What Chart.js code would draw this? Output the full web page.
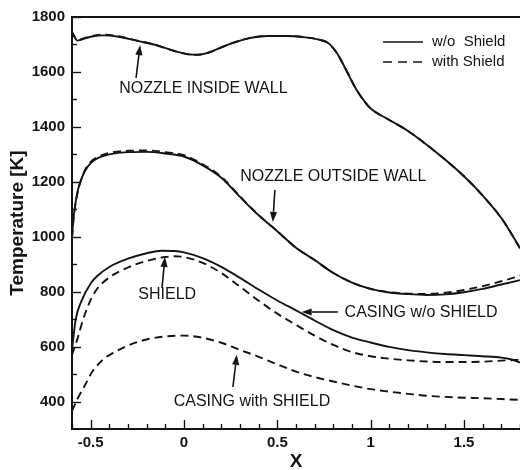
<!DOCTYPE html>
<html><head><meta charset="utf-8">
<script src="https://cdn.jsdelivr.net/npm/chart.js@4.4.0/dist/chart.umd.min.js"></script>
<style>html,body{margin:0;padding:0;background:#fff;}#wrap{width:520px;height:470px;}</style>
</head><body><div id="wrap"><canvas id="c" width="520" height="470"></canvas></div>
<script>
// ---- tick labels ----
const xTickLabels = [-0.5, 0, 0.5, 1, 1.5];
const yTickLabels = [400, 600, 800, 1000, 1200, 1400, 1600, 1800];

// ---- Nozzle inside wall ----
const nozzleInX      = [-0.6,-0.57,-0.55,-0.5,-0.43,-0.35,-0.25,-0.15,-0.05,0.05,0.1,0.15,0.25,0.35,0.45,0.55,0.65,0.72,0.77,0.82,0.87,0.92,0.97,1.0,1.1,1.2,1.3,1.4,1.5,1.6,1.7,1.75,1.8];
const nozzleInSolid  = [1745,1714,1718,1728,1733,1728,1713,1698,1676,1663,1665,1675,1703,1723,1731,1731,1726,1718,1706,1668,1605,1540,1490,1467,1425,1385,1335,1280,1220,1150,1068,1015,958];
const nozzleInDashed = [1745,1714,1719,1730,1736,1730,1714,1698,1676,1662,1664,1675,1703,1723,1731,1731,1726,1718,1706,1668,1605,1540,1490,1467,1425,1385,1335,1280,1220,1150,1068,1015,958];

// ---- Nozzle outside wall ----
const nozzleOutX      = [-0.6,-0.59,-0.57,-0.555,-0.53,-0.5,-0.46,-0.4,-0.3,-0.2,-0.1,0,0.1,0.2,0.3,0.4,0.5,0.6,0.7,0.8,0.9,1.0,1.1,1.2,1.3,1.4,1.5,1.6,1.7,1.8];
const nozzleOutSolid  = [1000,1080,1165,1200,1240,1268,1287,1300,1308,1309,1303,1292,1260,1215,1145,1078,1020,960,915,868,833,810,797,791,788,790,798,810,826,842];
const nozzleOutDashed = [996,1076,1162,1199,1243,1272,1291,1305,1313,1314,1308,1297,1264,1218,1147,1079,1020,960,915,868,833,810,798,793,792,796,806,820,838,858];

// ---- Casing w/o shield (solid) ----
const casingWoX = [-0.6,-0.58,-0.55,-0.5,-0.46,-0.4,-0.3,-0.2,-0.12,-0.05,0,0.1,0.2,0.3,0.4,0.5,0.6,0.7,0.8,0.9,1.0,1.1,1.2,1.3,1.4,1.5,1.6,1.7,1.75,1.8];
const casingWoT = [590,700,765,830,860,890,920,940,949,948,943,922,890,850,808,768,732,695,660,633,615,599,587,579,573,569,565,560,554,542];

// ---- Shield (dashed) ----
const shieldX = [-0.6,-0.57,-0.54,-0.5,-0.47,-0.4,-0.3,-0.2,-0.1,-0.05,0,0.1,0.2,0.3,0.4,0.5,0.6,0.7,0.8,0.9,1.0,1.1,1.2,1.3,1.4,1.5,1.6,1.7,1.8];
const shieldT = [570,630,700,770,806,852,888,912,926,929,926,905,868,818,767,720,679,640,606,580,565,556,550,546,544,544,545,549,552];

// ---- Casing with shield (dashed) ----
const casingWithX = [-0.6,-0.57,-0.53,-0.49,-0.43,-0.38,-0.3,-0.2,-0.1,0,0.1,0.2,0.3,0.4,0.5,0.6,0.7,0.8,0.9,1.0,1.1,1.2,1.3,1.4,1.5,1.6,1.7,1.8];
const casingWithT = [365,410,460,510,555,577,604,626,637,640,632,614,588,563,535,509,489,473,458,445,436,428,421,417,414,412,409,406];

// ---- annotations (text, text position, arrow from -> to, in data units) ----
const annoTexts  = ["NOZZLE INSIDE WALL","NOZZLE OUTSIDE WALL","SHIELD","CASING w/o SHIELD","CASING with SHIELD"];
const annoTextX  = [0.104, 0.80, -0.09, 1.27, 0.364];
const annoTextT  = [1541, 1218, 788, 722, 398];
const arrowFromX = [-0.257, 0.487, -0.118, 0.824, 0.262];
const arrowFromT = [1578, 1170, 813, 726, 453];
const arrowToX   = [-0.235, 0.476, -0.102, 0.63, 0.283];
const arrowToT   = [1698, 1054, 926, 726, 570];

const legendLabels = ["w/o  Shield", "with Shield"];

const FONT = '"Liberation Sans", Arial, Helvetica, sans-serif';
const INK = '#141414';
const DASH = [8, 5];

function pts(xs, ys){ return xs.map((x, i) => ({x: x, y: ys[i]})); }
function ds(xs, ys, dashed){
  return {data: pts(xs, ys), borderColor: INK, borderWidth: 1.9, borderDash: dashed ? DASH : [],
          pointRadius: 0, fill: false, cubicInterpolationMode: 'monotone'};
}

const overlay = {
  id: 'overlay',
  afterDraw(chart){
    const {ctx, chartArea: a, scales: {x, y}} = chart;
    ctx.save();
    ctx.strokeStyle = INK; ctx.fillStyle = INK;
    // top frame
    ctx.lineWidth = 2;
    ctx.beginPath(); ctx.moveTo(a.left, a.top); ctx.lineTo(a.right, a.top); ctx.stroke();
    // inward tick marks
    ctx.lineWidth = 1.4;
    for (let i = -6; i <= 18; i++){
      const px = Math.round(x.getPixelForValue(i / 10)) + 0.5;
      const len = (i % 5 === 0) ? 9 : 5;
      ctx.beginPath(); ctx.moveTo(px, a.bottom); ctx.lineTo(px, a.bottom - len); ctx.stroke();
    }
    for (let v = 400; v <= 1800; v += 100){
      const py = Math.round(y.getPixelForValue(v)) + 0.5;
      const len = (v % 200 === 0) ? 9 : 5;
      ctx.beginPath(); ctx.moveTo(a.left, py); ctx.lineTo(a.left + len, py); ctx.stroke();
    }
    // axis titles
    ctx.font = 'bold 19px ' + FONT;
    ctx.textAlign = 'center'; ctx.textBaseline = 'middle';
    ctx.save();
    ctx.translate(18, (a.top + a.bottom) / 2);
    ctx.rotate(-Math.PI / 2);
    ctx.fillText('Temperature [K]', 0, 0);
    ctx.restore();
    ctx.fillText('X', (a.left + a.right) / 2, 462);
    // legend
    ctx.lineWidth = 1.6;
    const lx0 = a.right - 137, lx1 = a.right - 97;
    ctx.setLineDash([]);
    ctx.beginPath(); ctx.moveTo(lx0, a.top + 25); ctx.lineTo(lx1, a.top + 25); ctx.stroke();
    ctx.setLineDash([9, 6]);
    ctx.beginPath(); ctx.moveTo(lx0, a.top + 45); ctx.lineTo(lx1 + 2, a.top + 45); ctx.stroke();
    ctx.setLineDash([]);
    ctx.font = '15px ' + FONT;
    ctx.textAlign = 'left';
    ctx.fillText(legendLabels[0], a.right - 88, a.top + 25);
    ctx.fillText(legendLabels[1], a.right - 88, a.top + 45);
    // annotations
    ctx.font = '16px ' + FONT;
    ctx.textAlign = 'center';
    annoTexts.forEach((t, i) => {
      ctx.fillText(t, x.getPixelForValue(annoTextX[i]), y.getPixelForValue(annoTextT[i]));
      const x1 = x.getPixelForValue(arrowFromX[i]), y1 = y.getPixelForValue(arrowFromT[i]);
      const x2 = x.getPixelForValue(arrowToX[i]),   y2 = y.getPixelForValue(arrowToT[i]);
      const ang = Math.atan2(y2 - y1, x2 - x1);
      const hl = 10, hw = 3.6;
      const bx = x2 - hl * Math.cos(ang), by = y2 - hl * Math.sin(ang);
      ctx.lineWidth = 1.6;
      ctx.beginPath(); ctx.moveTo(x1, y1); ctx.lineTo(bx, by); ctx.stroke();
      ctx.beginPath();
      ctx.moveTo(x2, y2);
      ctx.lineTo(bx + hw * Math.sin(ang), by - hw * Math.cos(ang));
      ctx.lineTo(bx - hw * Math.sin(ang), by + hw * Math.cos(ang));
      ctx.closePath(); ctx.fill();
    });
    ctx.restore();
  }
};

new Chart(document.getElementById('c'), {
  type: 'line',
  data: {
    datasets: [
      ds(nozzleInX, nozzleInSolid, false),
      ds(nozzleInX, nozzleInDashed, true),
      ds(nozzleOutX, nozzleOutSolid, false),
      ds(nozzleOutX, nozzleOutDashed, true),
      ds(casingWoX, casingWoT, false),
      ds(shieldX, shieldT, true),
      ds(casingWithX, casingWithT, true)
    ]
  },
  options: {
    responsive: false, animation: false, devicePixelRatio: 1,
    layout: {padding: {top: 17, right: 0, left: 0, bottom: 0}},
    plugins: {legend: {display: false}, tooltip: {enabled: false}},
    scales: {
      x: {
        type: 'linear', min: -0.6, max: 1.8,
        afterBuildTicks: s => { s.ticks = xTickLabels.map(v => ({value: v})); },
        afterFit: s => { s.height = 41; },
        grid: {display: false, drawTicks: false, tickLength: 0},
        border: {display: true, color: INK, width: 2},
        ticks: {color: INK, padding: 5, maxRotation: 0, font: {family: FONT, size: 15, weight: 'bold'},
                callback: v => String(v)}
      },
      y: {
        type: 'linear', min: 300, max: 1800,
        afterBuildTicks: s => { s.ticks = yTickLabels.map(v => ({value: v})); },
        afterFit: s => { s.width = 72; },
        grid: {display: false, drawTicks: false, tickLength: 0},
        border: {display: true, color: INK, width: 2},
        ticks: {color: INK, padding: 7, font: {family: FONT, size: 15, weight: 'bold'},
                callback: v => String(v)}
      }
    }
  },
  plugins: [overlay]
});
</script></body></html>
